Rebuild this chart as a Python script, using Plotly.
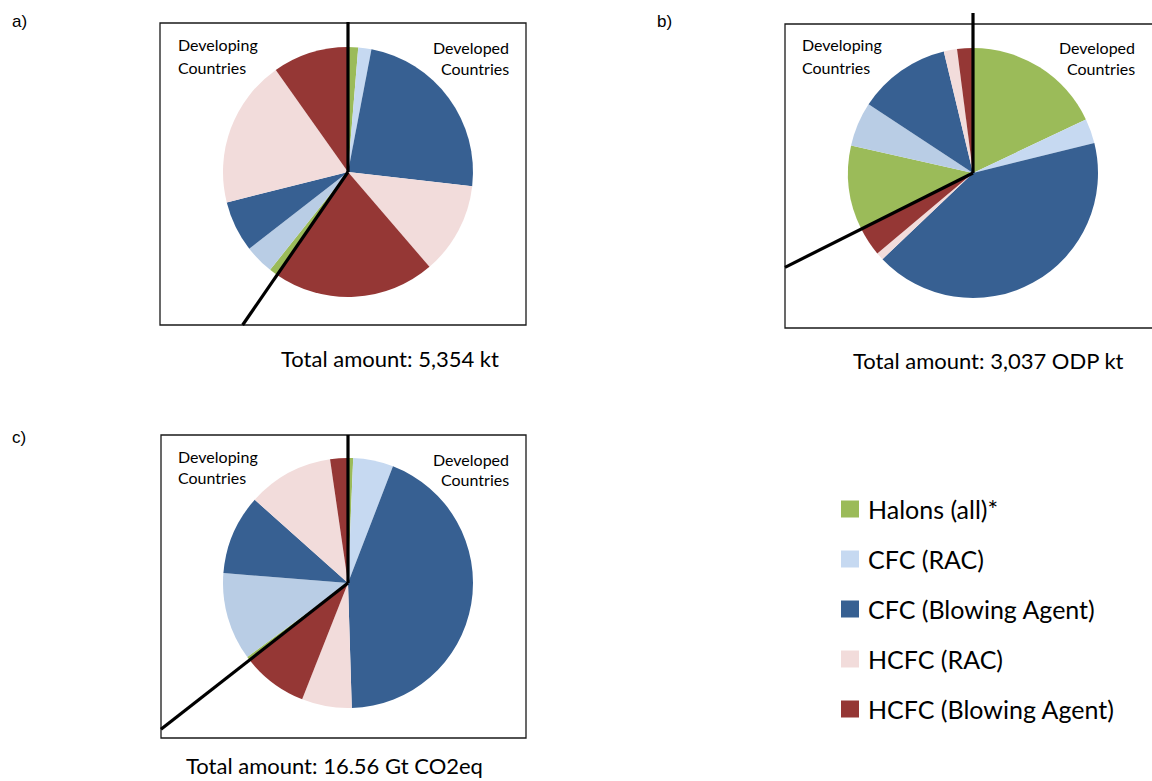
import math
import plotly.graph_objects as go

W, H = 1152, 781

# Substance groups (legend order) and slice colours
categories = ["Halons (all)*", "CFC (RAC)", "CFC (Blowing Agent)", "HCFC (RAC)", "HCFC (Blowing Agent)"]
colors_developed = ["#9BBB59", "#C6D9F1", "#376092", "#F2DCDB", "#953735"]
colors_developing = ["#9BBB59", "#B9CDE5", "#376092", "#F2DCDB", "#953735"]
legend_colors = ["#9BBB59", "#C6D9F1", "#376092", "#F2DCDB", "#953735"]

# a) amounts in kt
a_developed = [70, 91, 1274, 637, 1119]
a_developing = [59, 203, 353, 1023, 525]
# b) amounts in ODP kt
b_developed = [545, 97, 1268, 30, 113]
b_developing = [332, 174, 364, 52, 62]
# c) amounts in Gt CO2eq
c_developed = [0.11, 0.86, 7.23, 1.07, 1.40]
c_developing = [0.08, 1.88, 1.71, 1.84, 0.38]

panel_letters = ["a)", "b)", "c)"]
total_labels = [
    "Total amount: 5,354 kt",
    "Total amount: 3,037 ODP kt",
    "Total amount: 16.56 Gt CO2eq",
]

# Panel geometry in pixels: pie centre, radius, frame (l, t, r, b), stem top,
# panel letter position, caption position
panels = [
    dict(dev=a_developed, dvg=a_developing, cx=348, cy=172, r=125,
         box=(160, 23, 526, 325), stem_top=22, letter=(10, 22), caption=(390, 358),
         left_lbl=(176, 45, 67), right_lbl=(511, 47, 69)),
    dict(dev=b_developed, dvg=b_developing, cx=973, cy=173, r=125,
         box=(785, 24, 1162, 328), stem_top=13, letter=(655, 22), caption=(988, 360),
         left_lbl=(800, 45, 67), right_lbl=(1137, 47, 69)),
    dict(dev=c_developed, dvg=c_developing, cx=348, cy=583, r=125,
         box=(161, 435, 526, 738), stem_top=435, letter=(10, 437), caption=(334, 765),
         left_lbl=(176, 456, 477), right_lbl=(511, 459, 480)),
]


def px(x):
    return x / W


def py(y):
    return 1 - y / H


fig = go.Figure()
shapes = []
annotations = []

FONT = "Lato"

for i, p in enumerate(panels):
    values = list(p["dev"]) + list(p["dvg"])
    labels = [c + " – Developed" for c in categories] + [c + " – Developing" for c in categories]
    colors = colors_developed + colors_developing
    cx, cy, r = p["cx"], p["cy"], p["r"]
    fig.add_trace(go.Pie(
        values=values,
        labels=labels,
        marker=dict(colors=colors, line=dict(width=0)),
        sort=False,
        direction="clockwise",
        rotation=0,
        textinfo="none",
        hoverinfo="label+value+percent",
        showlegend=False,
        domain=dict(x=[px(cx - r), px(cx + r)], y=[py(cy + r), py(cy - r)]),
    ))

    l, t, rr, b = p["box"]
    shapes.append(dict(type="rect", xref="paper", yref="paper",
                       x0=px(l), x1=px(rr), y0=py(b), y1=py(t),
                       line=dict(color="#1a1a1a", width=1.3), fillcolor="rgba(0,0,0,0)"))

    # vertical stem at 12 o'clock
    shapes.append(dict(type="line", xref="paper", yref="paper",
                       x0=px(cx), y0=py(cy), x1=px(cx), y1=py(p["stem_top"]),
                       line=dict(color="black", width=3.2)))

    # divider between developed and developing shares, extended to the frame
    frac = sum(p["dev"]) / sum(values)
    theta = math.radians(360 * frac)
    dx, dy = math.sin(theta), -math.cos(theta)
    ts = []
    if dx > 0:
        ts.append((rr - cx) / dx)
    elif dx < 0:
        ts.append((l - cx) / dx)
    if dy > 0:
        ts.append((b - cy) / dy)
    elif dy < 0:
        ts.append((t - cy) / dy)
    tt = min(ts)
    shapes.append(dict(type="line", xref="paper", yref="paper",
                       x0=px(cx), y0=py(cy), x1=px(cx + dx * tt), y1=py(cy + dy * tt),
                       line=dict(color="black", width=3.2)))

    lx, ly = p["letter"]
    annotations.append(dict(text=panel_letters[i], x=px(lx), y=py(ly), xref="paper", yref="paper",
                            xanchor="left", yanchor="middle", showarrow=False,
                            font=dict(family="Liberation Sans", size=17, color="black")))

    gx, gy = p["caption"]
    annotations.append(dict(text=total_labels[i], x=px(gx), y=py(gy), xref="paper", yref="paper",
                            xanchor="center", yanchor="middle", showarrow=False,
                            font=dict(family=FONT, size=22, color="black")))

    x0, y1, y2 = p["left_lbl"]
    for txt, yy in (("Developing", y1), ("Countries", y2)):
        annotations.append(dict(text=txt, x=px(x0), y=py(yy), xref="paper", yref="paper",
                                xanchor="left", yanchor="middle", showarrow=False,
                                font=dict(family=FONT, size=16, color="black")))
    x0, y1, y2 = p["right_lbl"]
    for txt, yy in (("Developed", y1), ("Countries", y2)):
        annotations.append(dict(text=txt, x=px(x0), y=py(yy), xref="paper", yref="paper",
                                xanchor="right", yanchor="middle", showarrow=False,
                                font=dict(family=FONT, size=16, color="black")))

# legend: coloured squares with category names
leg_x, leg_y0, leg_step = 841, 509, 50
for k, (name, col) in enumerate(zip(categories, legend_colors)):
    yc = leg_y0 + k * leg_step
    shapes.append(dict(type="rect", xref="paper", yref="paper",
                       x0=px(leg_x), x1=px(leg_x + 18), y0=py(yc + 8.5), y1=py(yc - 8.5),
                       line=dict(width=0), fillcolor=col))
    annotations.append(dict(text=name, x=px(leg_x + 25), y=py(yc), xref="paper", yref="paper",
                            xanchor="left", yanchor="middle", showarrow=False,
                            font=dict(family=FONT, size=25, color="black")))

fig.update_layout(
    width=W, height=H, autosize=False,
    margin=dict(l=0, r=0, t=0, b=0),
    paper_bgcolor="white", plot_bgcolor="white",
    shapes=shapes, annotations=annotations,
)

fig.write_html("out.html")
